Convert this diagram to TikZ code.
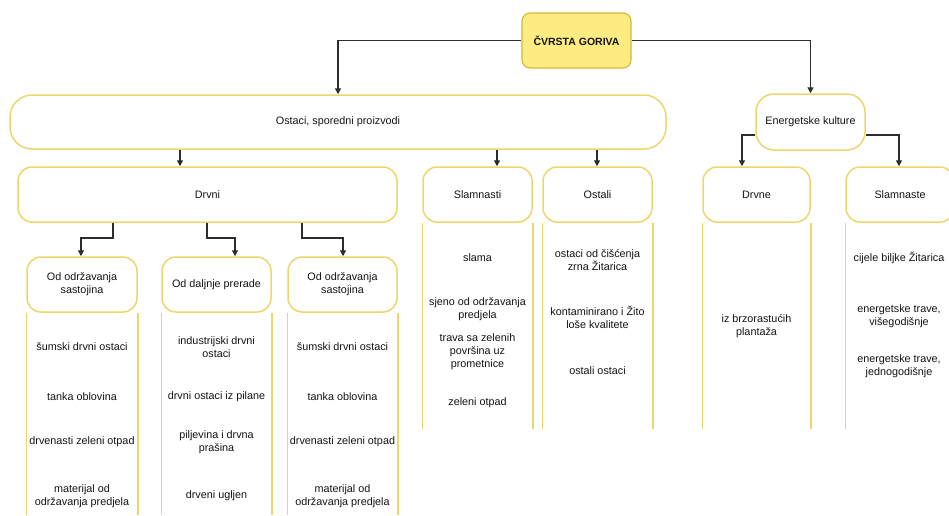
\documentclass[tikz,border=0pt]{standalone}
\usepackage{fontspec}
\setmainfont{Liberation Sans}
\usetikzlibrary{arrows.meta}
\definecolor{gold}{RGB}{238,214,108}
\definecolor{titlefill}{RGB}{255,236,128}
\definecolor{titledraw}{RGB}{212,182,62}
\definecolor{arrowc}{RGB}{45,45,45}
\definecolor{txtc}{RGB}{20,20,20}
\begin{document}
\begin{tikzpicture}[x=1pt,y=-1pt,
  font=\fontsize{10.8}{13}\selectfont,
  box/.style={draw=gold,line width=1.5pt,fill=white,inner sep=0pt,align=center,text=txtc},
  titlebox/.style={box,fill=titlefill,draw=titledraw,line width=1.1pt,rounded corners=8pt,font=\fontsize{10.5}{13}\selectfont\bfseries},
  txt/.style={inner sep=1pt,align=center,text=txtc},
  col/.style={draw=gold,line width=1.5pt},
  arr/.style={draw=arrowc,line width=1.3pt,-{Triangle[length=6pt,width=6pt]}}]
\useasboundingbox (0,0) rectangle (949,515);
\clip (0,0) rectangle (949,515);
\fill[white] (0,0) rectangle (949,515);

% boxes
\node[titlebox,minimum width=109pt,minimum height=55pt] (title) at (576.5,40.5) {ČVRSTA GORIVA};
\node[box,rounded corners=22pt,minimum width=656pt,minimum height=54pt] (ostaci) at (338,122) {Ostaci, sporedni proizvodi};
\node[box,rounded corners=18pt,minimum width=109pt,minimum height=56pt] (ek) at (810.5,122) {Energetske kulture};
\node[box,rounded corners=14pt,minimum width=379pt,minimum height=55pt] (drvni) at (207.5,194.5) {Drvni};
\node[box,rounded corners=14pt,minimum width=109pt,minimum height=55pt] (slamnasti) at (477.5,194.5) {Slamnasti};
\node[box,rounded corners=14pt,minimum width=109pt,minimum height=55pt] (ostali) at (597.5,194.5) {Ostali};
\node[box,rounded corners=14pt,minimum width=107pt,minimum height=55pt] (drvne) at (756.5,194.5) {Drvne};
\node[box,rounded corners=14pt,minimum width=108pt,minimum height=55pt] (slamnaste) at (900,194.5) {Slamnaste};
\node[box,rounded corners=14pt,minimum width=110pt,minimum height=55pt] (sub1) at (82,284.5) {Od održavanja\\sastojina};
\node[box,rounded corners=14pt,minimum width=109pt,minimum height=55pt] (sub2) at (216.5,284.5) {Od daljnje prerade};
\node[box,rounded corners=14pt,minimum width=109pt,minimum height=55pt] (sub3) at (342.5,284.5) {Od održavanja\\sastojina};

% helper coordinates
\coordinate (bot1) at (0,429);
\coordinate (bot2) at (0,515);
\coordinate (xa) at (180,0);
\coordinate (xb) at (497,0);
\coordinate (xc) at (597,0);
\coordinate (ey) at (0,135);
\coordinate (xd) at (742,0);
\coordinate (xe) at (899,0);
\coordinate (dy) at (0,238);
\coordinate (d1) at (113,0);
\coordinate (d2) at (207,0);
\coordinate (d3) at (302,0);
\coordinate (s1) at (81,0);
\coordinate (s2) at (235,0);
\coordinate (s3) at (343,0);

% column side lines
\foreach \b in {slamnasti,ostali,drvne,slamnaste}{
  \draw[col] (\b.south west) -- (\b.south west |- bot1);
  \draw[col] (\b.south east) -- (\b.south east |- bot1);
}
\foreach \b in {sub1,sub2,sub3}{
  \draw[col] (\b.south west) -- (\b.south west |- bot2);
  \draw[col] (\b.south east) -- (\b.south east |- bot2);
}

% connectors
\draw[arr] (title.west) -| (ostaci.north);
\draw[arr] (title.east) -| (ek.north);
\draw[arr] (ostaci.south -| xa) -- (drvni.north -| xa);
\draw[arr] (ostaci.south -| xb) -- (slamnasti.north -| xb);
\draw[arr] (ostaci.south -| xc) -- (ostali.north -| xc);
\draw[arr] (ek.west |- ey) -| (drvne.north -| xd);
\draw[arr] (ek.east |- ey) -| (slamnaste.north -| xe);
\draw[arr] (drvni.south -| d1) |- (s1 |- dy) -- (sub1.north -| s1);
\draw[arr] (drvni.south -| d2) |- (s2 |- dy) -- (sub2.north -| s2);
\draw[arr] (drvni.south -| d3) |- (s3 |- dy) -- (sub3.north -| s3);

% column texts: sub1
\node[txt] (a1) at (82,347) {šumski drvni ostaci};
\node[txt] (a2) at (82,397) {tanka oblovina};
\node[txt] (a3) at (82,442) {drvenasti zeleni otpad};
\node[txt] (a4) at (82,496) {materijal od\\održavanja predjela};
% sub2
\node[txt] (b1) at (216.5,347) {industrijski drvni\\ostaci};
\node[txt] (b2) at (216.5,397) {drvni ostaci iz pilane};
\node[txt] (b3) at (216.5,442) {piljevina i drvna\\prašina};
\node[txt] (b4) at (216.5,496) {drveni ugljen};
% sub3
\node[txt] (c1) at (342.5,347) {šumski drvni ostaci};
\node[txt] (c2) at (342.5,397) {tanka oblovina};
\node[txt] (c3) at (342.5,442) {drvenasti zeleni otpad};
\node[txt] (c4) at (342.5,496) {materijal od\\održavanja predjela};
% slamnasti
\node[txt] (e1) at (477.5,258) {slama};
\node[txt] (e2) at (477.5,309) {sjeno od održavanja\\predjela};
\node[txt] (e3) at (477.5,352) {trava sa zelenih\\površina uz\\prometnice};
\node[txt] (e4) at (477.5,403) {zeleni otpad};
% ostali
\node[txt] (f1) at (597.5,260) {ostaci od čišćenja\\zrna Žitarica};
\node[txt] (f2) at (597.5,317) {kontaminirano i Žito\\loše kvalitete};
\node[txt] (f3) at (597.5,371) {ostali ostaci};
% drvne
\node[txt] (g1) at (756.5,326) {iz brzorastućih\\plantaža};
% slamnaste
\node[txt] (h1) at (899,258) {cijele biljke Žitarica};
\node[txt] (h2) at (899,316) {energetske trave,\\višegodišnje};
\node[txt] (h3) at (899,366) {energetske trave,\\jednogodišnje};
\end{tikzpicture}
\end{document}
